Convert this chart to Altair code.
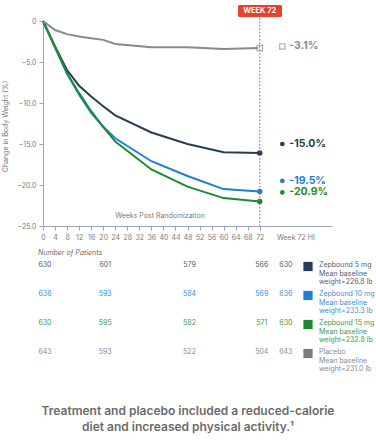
import altair as alt
import pandas as pd

weeks = [0, 4, 8, 12, 16, 20, 24, 36, 48, 60, 72]
series = ["Zepbound 5 mg", "Zepbound 10 mg", "Zepbound 15 mg", "Placebo"]
z5 = [0, -3.1, -6.0, -7.9, -9.2, -10.4, -11.5, -13.6, -15.0, -16.0, -16.1]
z10 = [0, -3.2, -6.4, -9.0, -11.2, -12.9, -14.3, -17.1, -18.9, -20.5, -20.8]
z15 = [0, -3.2, -6.4, -8.8, -11.0, -12.9, -14.7, -18.1, -20.2, -21.6, -22.0]
placebo = [0, -1.1, -1.6, -1.9, -2.1, -2.3, -2.8, -3.2, -3.2, -3.4, -3.3]
hi_values = [-15.0, -19.5, -20.9, -3.1]
hi_labels = ["-15.0%", "-19.5%", "-20.9%", "-3.1%"]

count_weeks = [0, 20, 48, 72, 80]
counts = [
    [630, 601, 579, 566, 630],
    [636, 593, 584, 569, 636],
    [630, 595, 582, 571, 630],
    [643, 593, 522, 504, 643],
]
legend_texts = [
    "Zepbound 5 mg\nMean baseline\nweight=226.8 lb",
    "Zepbound 10 mg\nMean baseline\nweight=233.3 lb",
    "Zepbound 15 mg\nMean baseline\nweight=232.8 lb",
    "Placebo\nMean baseline\nweight=231.0 lb",
]
x_ticks = list(range(0, 73, 4))
y_ticks = [0, -5, -10, -15, -20, -25]

line_colors = ["#263d57", "#1f7fd3", "#1e8a34", "#8a8a8a"]
label_colors = ["#2b3d52", "#1f82d8", "#1e8c36", "#7a7a7a"]
row_colors = ["#4f5e72", "#3b8fd8", "#3d9a4e", "#8c8c8c"]
square_colors = ["#243c58", "#1f7fd3", "#1e8a30", "#7b7b7b"]
legend_text_colors = ["#55606e", "#3b8fd8", "#3d9a4e", "#8c8c8c"]
FONT = "Inter"
AXIS = "#9aa4b3"
RED = "#e4432d"

rows = []
for s, vals in zip(series, [z5, z10, z15, placebo]):
    for w, v in zip(weeks, vals):
        rows.append({"series": s, "week": w, "value": v})
df = pd.DataFrame(rows)
df_end = df[df.week == 72]

df_hi = pd.DataFrame({"series": series, "value": hi_values, "label": hi_labels,
                      "mx": [79.5] * 4, "tx": [81.8] * 4})

xscale = alt.Scale(domain=[0, 96], nice=False)
yscale = alt.Scale(domain=[-25, 0], nice=False)
cscale = alt.Scale(domain=series, range=line_colors)
lscale = alt.Scale(domain=series, range=label_colors)

xax = alt.Axis(values=x_ticks, grid=False, domainColor=AXIS, tickColor=AXIS,
               tickSize=4, labelFontSize=7, labelColor="#7a7a7a", labelFont=FONT,
               labelPadding=3, labelFlush=False, labelOverlap=False)
yax = alt.Axis(values=y_ticks, grid=False, domainColor=AXIS, tickColor=AXIS,
               tickSize=4, labelFontSize=7, labelColor="#7a7a7a", labelFont=FONT,
               labelPadding=3, labelOverlap=False,
               labelExpr="datum.value == 0 ? '0' : format(datum.value, '.1f')",
               titleFontSize=7, titleFontWeight="normal", titleColor="#7a7a7a",
               titleFont=FONT, titleX=-35, titleY=105)
YT = "Change in Body Weight (%)"


def X(field):
    return alt.X(field, scale=xscale, axis=xax, title=None)


def Y(field):
    return alt.Y(field, scale=yscale, axis=yax, title=YT)


lines = alt.Chart(df).mark_line(strokeWidth=2).encode(
    x=X("week:Q"), y=Y("value:Q"),
    color=alt.Color("series:N", scale=cscale, legend=None),
    detail="series:N",
)

end_dots = alt.Chart(df_end[df_end.series != "Placebo"]).mark_circle(size=30, opacity=1).encode(
    x=X("week:Q"), y=Y("value:Q"),
    color=alt.Color("series:N", scale=cscale, legend=None))
end_sq = alt.Chart(df_end[df_end.series == "Placebo"]).mark_square(
    size=30, filled=True, fill="white", stroke="#8a8a8a", strokeWidth=1.2).encode(
    x=X("week:Q"), y=Y("value:Q"))

hi_dots = alt.Chart(df_hi[df_hi.series != "Placebo"]).mark_circle(size=22, opacity=1).encode(
    x=X("mx:Q"), y=Y("value:Q"),
    color=alt.Color("series:N", scale=lscale, legend=None))
hi_sq = alt.Chart(df_hi[df_hi.series == "Placebo"]).mark_square(
    size=28, filled=True, fill="white", stroke="#8a8a8a", strokeWidth=1.2).encode(
    x=X("mx:Q"), y=Y("value:Q"))
hi_text = alt.Chart(df_hi).mark_text(align="left", baseline="middle", fontSize=10.5,
                                     fontWeight="bold", font=FONT).encode(
    x=X("tx:Q"), y=Y("value:Q"), text="label:N",
    color=alt.Color("series:N", scale=lscale, legend=None))

one = pd.DataFrame({"t": ["WEEK 72"], "w": [72]})
rule72 = alt.Chart(one).mark_rule(color=RED, strokeDash=[1.5, 2], strokeWidth=1).encode(
    x=X("w:Q"), y=alt.value(-3), y2=alt.value(207))
box = alt.Chart(one).mark_rect(color=RED, cornerRadius=1.5).encode(
    x=alt.value(195), x2=alt.value(239), y=alt.value(-16), y2=alt.value(-4))
box_text = alt.Chart(one).mark_text(color="white", fontSize=7.5, fontWeight="bold",
                                    font=FONT, baseline="middle").encode(
    x=X("w:Q"), y=alt.value(-10), text="t:N")

misc = pd.DataFrame({"t": ["Weeks Post Randomization"]})
wpr = alt.Chart(misc).mark_text(fontSize=7, color="#7a7a7a", font=FONT, align="center",
                                baseline="middle").encode(
    x=alt.value(117), y=alt.value(195), text="t:N")
hi_lab = alt.Chart(pd.DataFrame({"t": ["Week 72 HI"], "w": [84]})).mark_text(
    fontSize=7, color="#7a7a7a", font=FONT, baseline="middle").encode(
    x=X("w:Q"), y=alt.value(217), text="t:N")
nop = alt.Chart(pd.DataFrame({"t": ["Number of Patients"]})).mark_text(
    fontSize=7, color="#6a6a6a", font=FONT, fontStyle="italic", align="left",
    baseline="middle").encode(x=alt.value(-5), y=alt.value(232), text="t:N")

layers = [lines, end_dots, end_sq, rule72, box, box_text, hi_dots, hi_sq, hi_text,
          wpr, hi_lab, nop]

row_y = [244, 273, 302, 331]
for i in range(4):
    dfc = pd.DataFrame({"week": count_weeks, "n": [str(c) for c in counts[i]]})
    layers.append(alt.Chart(dfc).mark_text(fontSize=7, color=row_colors[i], font=FONT,
                                           baseline="middle", dx=2).encode(
        x=X("week:Q"), y=alt.value(row_y[i]), text="n:N"))
    dl = pd.DataFrame({"t": [legend_texts[i]]})
    layers.append(alt.Chart(dl).mark_square(size=85, opacity=1, color=square_colors[i]).encode(
        x=alt.value(265), y=alt.value(row_y[i] + 1.5)))
    layers.append(alt.Chart(dl).mark_text(fontSize=7, color=legend_text_colors[i], font=FONT,
                                          align="left", baseline="top", lineBreak="\n",
                                          lineHeight=8.5).encode(
        x=alt.value(276), y=alt.value(row_y[i] - 4), text="t:N"))

foot_lines = ["Treatment and placebo included a reduced-calorie",
              "diet and increased physical activity.\u00b9"]
foot_y = [390, 406]
for t, y in zip(foot_lines, foot_y):
    layers.append(alt.Chart(pd.DataFrame({"t": [t]})).mark_text(
        fontSize=12, fontWeight=600, color="#6b6b6b", font=FONT, align="center",
        baseline="middle").encode(x=alt.value(145), y=alt.value(y), text="t:N"))

chart = alt.layer(*layers).properties(
    width=289, height=205,
    autosize=alt.AutoSizeParams(type="none"),
    padding={"left": 43, "top": 21, "right": 44, "bottom": 214},
    background="white",
).configure_view(stroke=None)

chart.save("out.html", embed_options={"renderer": "svg", "actions": False})
